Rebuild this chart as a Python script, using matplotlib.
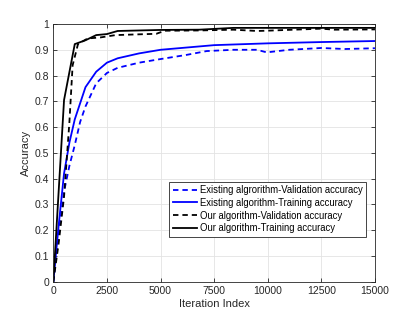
import matplotlib
matplotlib.use("Agg")
import matplotlib.pyplot as plt

plt.rcParams['font.family'] = ['Liberation Sans', 'DejaVu Sans']

# iteration positions for each series
it_ev = [0, 250, 500, 750, 1000, 1250, 1500, 2000, 2500, 3000, 4000, 5000, 6200, 7150,
         8400, 9500, 9950, 11000, 12500, 13600, 15000]
acc_ev = [0, 0.19, 0.35, 0.45, 0.53, 0.62, 0.68, 0.77, 0.81, 0.83, 0.85, 0.864, 0.88, 0.895,
          0.9, 0.9, 0.89, 0.9, 0.907, 0.903, 0.906]

it_et = [0, 250, 500, 750, 1000, 1500, 2000, 2500, 3000, 4000, 5000, 7500, 10000, 12500, 15000]
acc_et = [0, 0.22, 0.42, 0.54, 0.63, 0.755, 0.815, 0.85, 0.867, 0.886, 0.9, 0.918, 0.925, 0.93, 0.934]

it_ov = [0, 250, 500, 750, 900, 1150, 1600, 2200, 2900, 4000, 4800, 5200, 6800, 8400, 9500,
         9950, 12500, 13100, 15000]
acc_ov = [0, 0.15, 0.33, 0.62, 0.84, 0.922, 0.944, 0.948, 0.957, 0.96, 0.962, 0.974, 0.975,
          0.978, 0.973, 0.974, 0.982, 0.978, 0.979]

it_ot = [0, 500, 1000, 1500, 2000, 2500, 3000, 5000, 6800, 8400, 15000]
acc_ot = [0, 0.705, 0.922, 0.937, 0.957, 0.961, 0.973, 0.977, 0.978, 0.985, 0.985]

labels = ['Existing algrorithm-Validation accuracy',
          'Existing algorithm-Training accuracy',
          'Our algorithm-Validation accuracy',
          'Our algorithm-Training accuracy']

fig = plt.figure(figsize=(4.15, 3.16), dpi=100)
ax = fig.add_axes([0.1285, 0.1085, 0.775, 0.8155])

ax.plot(it_ev, acc_ev, color='#0000ff', ls='--', dashes=(3, 2.2), lw=1.3, label=labels[0])
ax.plot(it_et, acc_et, color='#0000ff', ls='-', lw=1.3, label=labels[1])
ax.plot(it_ov, acc_ov, color='black', ls='--', dashes=(3, 2.2), lw=1.3, label=labels[2])
ax.plot(it_ot, acc_ot, color='black', ls='-', lw=1.3, label=labels[3])

ax.set_xlim(0, 15000)
ax.set_ylim(0, 1)
ax.set_xticks([0, 2500, 5000, 7500, 10000, 12500, 15000])
ax.set_yticks([i / 10 for i in range(11)])
ax.set_yticklabels(['0', '0.1', '0.2', '0.3', '0.4', '0.5', '0.6', '0.7', '0.8', '0.9', '1'])
ax.grid(True, color='#e3e3e3', lw=0.6)
ax.set_axisbelow(True)
ax.tick_params(direction='in', length=3, width=0.6, labelsize=7.5, colors='#262626',
               top=True, right=True, pad=3)
for s in ax.spines.values():
    s.set_color('#262626')
    s.set_linewidth(0.6)

ax.set_xlabel('Iteration Index', fontsize=8, color='#262626', labelpad=2)
ax.set_ylabel('Accuracy', fontsize=8, color='#262626', labelpad=3)

leg = ax.legend(loc='upper left', bbox_to_anchor=(0.346, 0.407), fontsize=6.85,
                handlelength=2.6, handletextpad=0.3, labelspacing=0.3,
                borderpad=0.35, fancybox=False, framealpha=1, edgecolor='#262626')
leg.get_frame().set_linewidth(0.6)

fig.savefig('out.png', dpi=100, facecolor='white')
